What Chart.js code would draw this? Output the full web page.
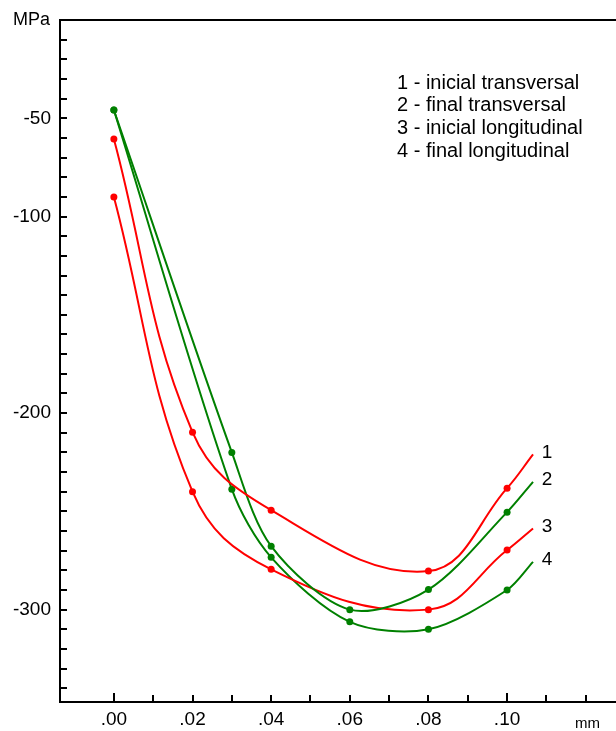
<!DOCTYPE html>
<html>
<head>
<meta charset="utf-8">
<script src="https://cdn.jsdelivr.net/npm/chart.js@4"></script>
<style>
html, body { margin: 0; padding: 0; background: #fff; }
#wrap { width: 616px; height: 731px; position: relative; }
</style>
</head>
<body>
<div id="wrap"><canvas id="stressChart"></canvas></div>
<script>
// series names, shown in the text block top right
const seriesNames = ["1 - inicial transversal", "2 - final transversal", "3 - inicial longitudinal", "4 - final longitudinal"];
const endLabels = ["1", "2", "3", "4"];

// depth (mm) and residual stress (MPa) per series
const depth1 = [0, 0.02, 0.04, 0.08, 0.10, 0.1066];
const stress1 = [-60.6, -209.7, -249.4, -280.4, -238.2, -221];
const depth2 = [0, 0.03, 0.04, 0.06, 0.08, 0.10, 0.1066];
const stress2 = [-45.8, -220, -267.7, -300, -289.8, -250.4, -235];
const depth3 = [0, 0.02, 0.04, 0.08, 0.10, 0.1066];
const stress3 = [-90, -240, -279.5, -300, -269.7, -258.7];
const depth4 = [0, 0.03, 0.04, 0.06, 0.08, 0.10, 0.1066];
const stress4 = [-45.8, -238.7, -273.4, -306.2, -310, -290, -275.7];

const xTickLabels = [0, 0.02, 0.04, 0.06, 0.08, 0.10];
const yTickLabels = [-50, -100, -200, -300];

const RED = "#ff0000";
const GREEN = "#008000";
const FONT = "'Liberation Sans', Arial, sans-serif";

function toPoints(xs, ys) {
    return xs.map((x, i) => ({ x: x, y: ys[i] }));
}

function makeSet(name, xs, ys, color, tension) {
    return {
        label: name,
        data: toPoints(xs, ys),
        borderColor: color,
        backgroundColor: color,
        borderWidth: 2,
        tension: tension,
        fill: false,
        pointBackgroundColor: color,
        pointBorderWidth: 0,
        pointRadius: ctx => ctx.dataIndex === xs.length - 1 ? 0 : 3.5
    };
}

// inward tick marks, top frame line and the free text
const axisExtras = {
    id: "axisExtras",
    afterDraw(chart) {
        const { ctx, chartArea: a, scales: { x, y } } = chart;
        ctx.save();
        ctx.strokeStyle = "#000";
        ctx.lineWidth = 2;
        ctx.beginPath();
        ctx.moveTo(a.left - 1, a.top);
        ctx.lineTo(a.right, a.top);
        ctx.stroke();

        for (const t of y.ticks) {
            if (t.value >= 0) continue;
            const py = Math.round(y.getPixelForValue(t.value));
            ctx.beginPath();
            ctx.moveTo(a.left, py);
            ctx.lineTo(a.left + 7, py);
            ctx.stroke();
        }
        for (const t of x.ticks) {
            if (t.value < -1e-9) continue;
            const px = Math.round(x.getPixelForValue(t.value));
            const major = Math.abs(t.value * 10 - Math.round(t.value * 10)) < 1e-6;
            ctx.beginPath();
            ctx.moveTo(px, a.bottom);
            ctx.lineTo(px, a.bottom - (major ? 9 : 7));
            ctx.stroke();
        }

        ctx.fillStyle = "#000";
        ctx.textBaseline = "middle";
        ctx.textAlign = "left";
        ctx.font = "18px " + FONT;
        ctx.fillText("MPa", 13, 20);
        ctx.font = "15px " + FONT;
        ctx.fillText("mm", 575, 724);

        ctx.font = "20px " + FONT;
        seriesNames.forEach((n, i) => ctx.fillText(n, 397, 83 + i * 22.7));

        ctx.font = "19px " + FONT;
        ctx.textAlign = "center";
        chart.data.datasets.forEach((ds, i) => {
            const pts = chart.getDatasetMeta(i).data;
            const last = pts[pts.length - 1];
            ctx.fillText(endLabels[i], last.x + 14, last.y - 2);
        });
        ctx.restore();
    }
};

new Chart(document.getElementById("stressChart"), {
    type: "line",
    data: {
        datasets: [
            makeSet(seriesNames[0], depth1, stress1, RED, 0.4),
            makeSet(seriesNames[1], depth2, stress2, GREEN, 0.3),
            makeSet(seriesNames[2], depth3, stress3, RED, 0.4),
            makeSet(seriesNames[3], depth4, stress4, GREEN, 0.3)
        ]
    },
    options: {
        responsive: true,
        maintainAspectRatio: false,
        animation: false,
        layout: { autoPadding: false, padding: { top: 20, right: 0, bottom: 0, left: 0 } },
        plugins: {
            legend: { display: false },
            tooltip: { enabled: false }
        },
        scales: {
            x: {
                type: "linear",
                min: -0.0137,
                max: 0.1277,
                afterFit: s => { s.height = 29; s.paddingLeft = 0; s.paddingRight = 0; },
                grid: { display: true, drawOnChartArea: false, drawTicks: false },
                border: { display: true, color: "#000", width: 2 },
                ticks: {
                    stepSize: 0.01,
                    includeBounds: false,
                    autoSkip: false,
                    maxRotation: 0,
                    padding: 6,
                    color: "#000",
                    font: { family: FONT, size: 19 },
                    callback: v => xTickLabels.some(l => Math.abs(l - v) < 1e-6) ? v.toFixed(2).replace(/^0/, "") : ""
                }
            },
            y: {
                min: -347,
                max: 0,
                afterFit: s => { s.width = 60; s.paddingTop = 0; s.paddingBottom = 0; },
                grid: { display: true, drawOnChartArea: false, drawTicks: false },
                border: { display: true, color: "#000", width: 2 },
                ticks: {
                    stepSize: 10,
                    includeBounds: false,
                    autoSkip: false,
                    padding: 9,
                    color: "#000",
                    font: { family: FONT, size: 19 },
                    callback: v => yTickLabels.includes(v) ? String(v) : ""
                }
            }
        }
    },
    plugins: [axisExtras]
});
</script>
</body>
</html>
